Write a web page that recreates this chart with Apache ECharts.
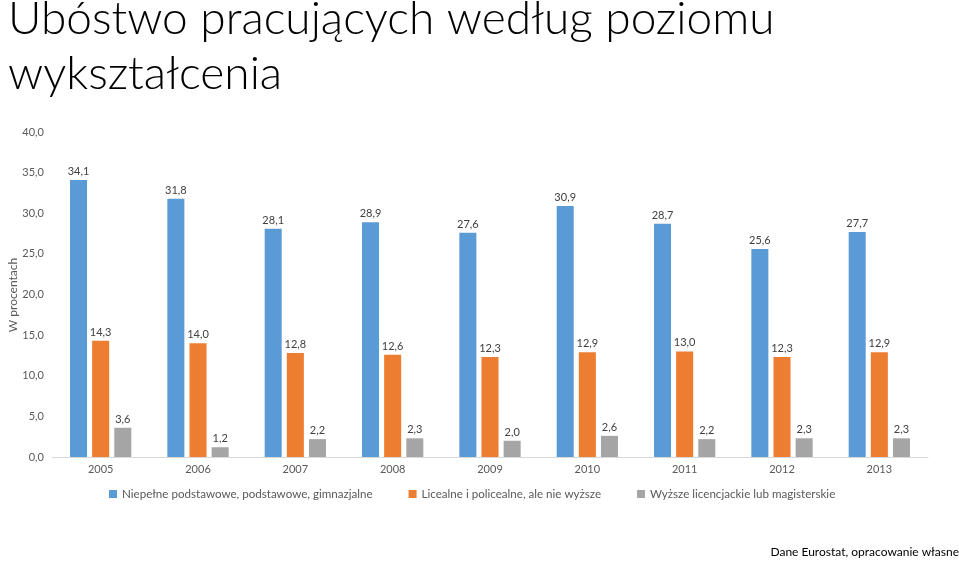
<!DOCTYPE html>
<html><head><meta charset="utf-8">
<script src="https://cdn.jsdelivr.net/npm/echarts@6/dist/echarts.min.js"></script>
<style>html,body{margin:0;padding:0;background:#fff}#c{width:959px;height:561px}</style>
</head><body><div id="c"></div>
<script>
const years = ['2005','2006','2007','2008','2009','2010','2011','2012','2013'];
const seriesNames = ['Niepełne podstawowe, podstawowe, gimnazjalne','Licealne i policealne, ale nie wyższe','Wyższe licencjackie lub magisterskie'];
const basic = [34.1,31.8,28.1,28.9,27.6,30.9,28.7,25.6,27.7];
const secondary = [14.3,14.0,12.8,12.6,12.3,12.9,13.0,12.3,12.9];
const higher = [3.6,1.2,2.2,2.3,2.0,2.6,2.2,2.3,2.3];
const colors = ['#5B9BD5','#ED7D31','#A5A5A5'];
const fmt = v => v.toFixed(1).replace('.', ',');
const font = 'Lato, "Open Sans", sans-serif';
const chart = echarts.init(document.getElementById('c'));
const mk = (name, data, color) => ({
  name, type:'bar', data, barGap:'30%', barCategoryGap:'37%',
  itemStyle:{color},
  label:{show:true, position:'top', distance:3, color:'#404040', fontSize:11, fontFamily:font,
    formatter:p=>fmt(p.value)}
});
chart.setOption({
  animation:false,
  color:colors,
  title:{text:'Ubóstwo pracujących według poziomu\nwykształcenia', left:3, top:-13,
    textStyle:{fontSize:46, fontWeight:300, color:'#000', fontFamily:font, lineHeight:55}},
  legend:{bottom:56, left:104, itemWidth:8, itemHeight:8, itemGap:36, icon:'rect',
    textStyle:{fontSize:11.6, color:'#595959', fontFamily:font}},
  graphic:[
    {type:'text', right:0, bottom:3, style:{text:'Dane Eurostat, opracowanie własne', fontSize:12, fill:'#000', fontFamily:font}},
    {type:'text', x:13, y:295, rotation:Math.PI/2, style:{text:'W procentach', fontSize:12, fill:'#595959', fontFamily:font, align:'center', verticalAlign:'middle'}}
  ],
  grid:{left:52, right:31, top:132, bottom:104, outerBoundsMode:'none', containLabel:false},
  xAxis:{type:'category', data:years, axisTick:{show:false},
    axisLine:{lineStyle:{color:'#D9D9D9'}},
    axisLabel:{color:'#595959', fontSize:11, margin:7, fontFamily:font}},
  yAxis:{type:'value', min:0, max:40, interval:5,
    axisLine:{show:false}, axisTick:{show:false}, splitLine:{show:false},
    axisLabel:{color:'#595959', fontSize:11, fontFamily:font, formatter:v=>fmt(v)}},
  series:[mk(seriesNames[0],basic,colors[0]), mk(seriesNames[1],secondary,colors[1]), mk(seriesNames[2],higher,colors[2])]
});
</script></body></html>
